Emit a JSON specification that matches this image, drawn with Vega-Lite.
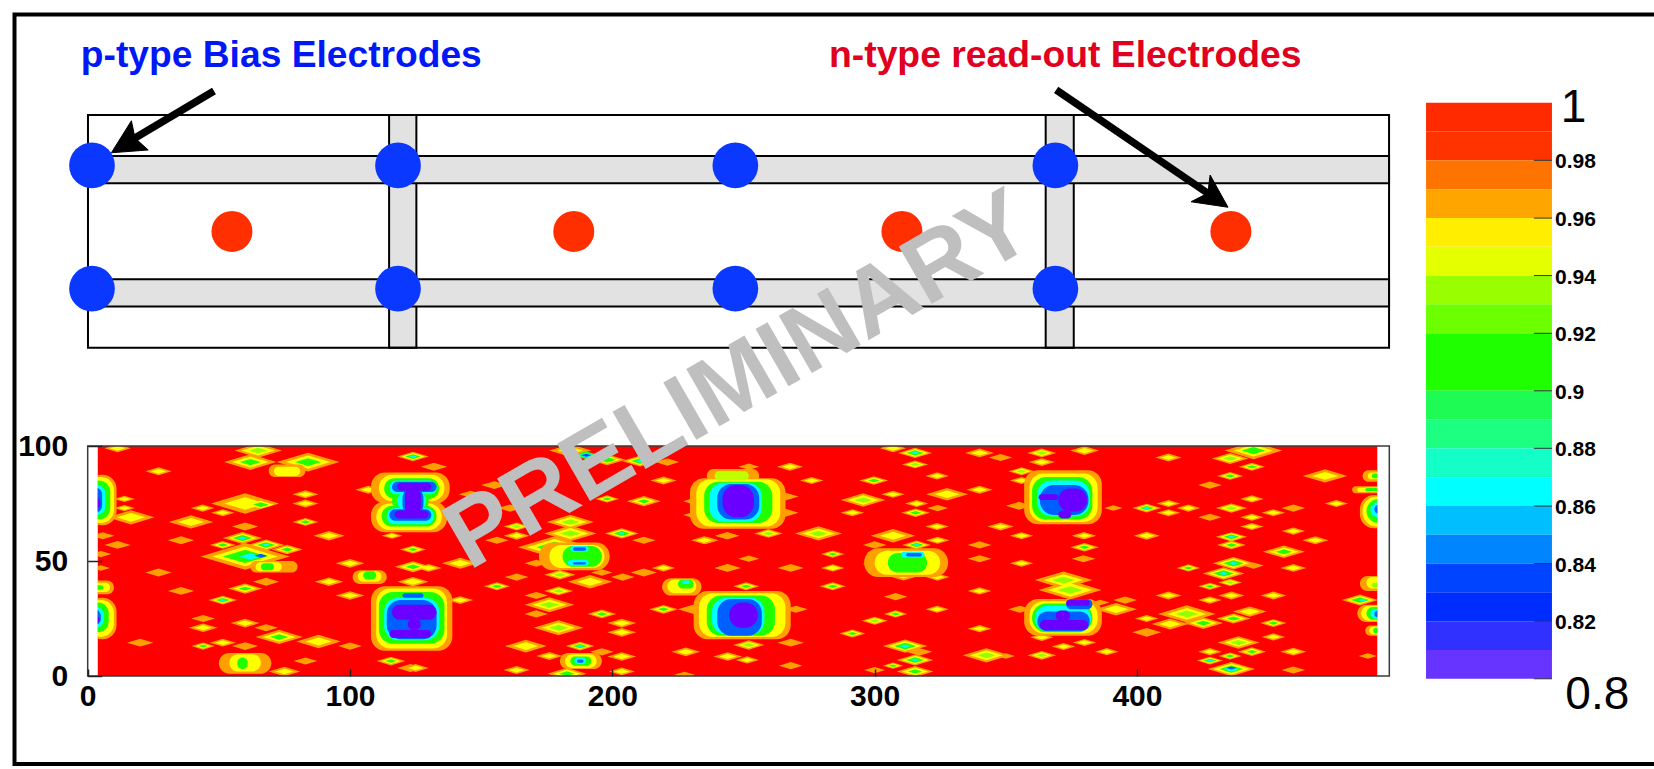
{"$schema":"https://vega.github.io/schema/vega-lite/v6.json","width":1654,"height":769,"padding":0,"autosize":"none","background":"white","config":{"view":{"stroke":null},"font":"Liberation Sans"},
"encoding":{"x":{"field":"x","type":"quantitative","title":null,"scale":{"domain":[-33.43,597.1]},"axis":{"orient":"bottom","offset":-93,"values":[0,100,200,300,400],"domain":false,"grid":false,"tickSize":-7,"tickColor":"#222","tickWidth":1.5,"labelFont":"Liberation Sans","labelFontWeight":"bold","labelFontSize":30,"labelColor":"#000","labelPadding":12,"labelFlush":false,"labelOverlap":false,"zindex":1}},"y":{"field":"y","type":"quantitative","title":null,"scale":{"domain":[-40.43,293.91]},"axis":{"orient":"left","offset":-87.7,"values":[0,50,100],"domain":false,"grid":false,"tickSize":-14,"tickColor":"#222","tickWidth":1.5,"labelFont":"Liberation Sans","labelFontWeight":"bold","labelFontSize":30,"labelColor":"#000","labelPadding":34,"labelOverlap":false,"zindex":1}}},
"layer":[
{"data":{"values":[{"x":3.75,"x2":491.7,"y":0,"y2":100,"v":0.995}]},"mark":{"type":"rect"},"encoding":{"x2":{"field":"x2"},"y2":{"field":"y2"},"color":{"field":"v","type":"quantitative","legend":null,"scale":{"type":"threshold","domain":[0.81,0.82,0.83,0.84,0.85,0.86,0.87,0.88,0.89,0.9,0.91,0.92,0.93,0.94,0.95,0.96,0.97,0.98,0.99],"range":["#6a00ff","#5500ff","#2a22ff","#0040ff","#0060ff","#0090ff","#00c0ff","#00ffff","#00ffb0","#00ff70","#00ff30","#20ff00","#50ff00","#90ff00","#c0ff00","#ffff00","#ffd000","#ffa000","#ff6000","#ff0000"]}}}},
{"data":{"values":[
{"x":20,"y":14.5,"w":10,"v":0.975},{"x":27,"y":45,"w":10,"v":0.975},{"x":35.6,"y":59,"w":10,"v":0.975},{"x":35.6,"y":37,"w":10,"v":0.975},{"x":44,"y":25,"w":9,"v":0.975},{"x":68,"y":41,"w":10,"v":0.975},{"x":68,"y":21,"w":9,"v":0.975},{"x":60,"y":65,"w":10,"v":0.975},{"x":60,"y":13,"w":10,"v":0.975},{"x":100,"y":13,"w":9,"v":0.975},{"x":83,"y":6.5,"w":9,"v":0.975},{"x":11.4,"y":57,"w":10,"v":0.975},{"x":155,"y":83,"w":10,"v":0.975},{"x":146,"y":79,"w":9,"v":0.975},{"x":161,"y":73,"w":9,"v":0.975},{"x":132,"y":91,"w":10,"v":0.975},{"x":156,"y":59,"w":9,"v":0.975},{"x":212,"y":59,"w":9,"v":0.975},{"x":171,"y":49,"w":9,"v":0.975},{"x":196,"y":45,"w":8,"v":0.975},{"x":212,"y":45,"w":10,"v":0.975},{"x":163.5,"y":43,"w":9,"v":0.975},{"x":204,"y":43,"w":9,"v":0.975},{"x":171,"y":35,"w":9,"v":0.975},{"x":171,"y":27,"w":9,"v":0.975},{"x":196,"y":10.5,"w":9,"v":0.975},{"x":243.6,"y":61,"w":9,"v":0.975},{"x":252,"y":91,"w":8,"v":0.975},{"x":244,"y":61,"w":9,"v":0.975},{"x":236,"y":59,"w":9,"v":0.975},{"x":252,"y":51,"w":8,"v":0.975},{"x":244,"y":47,"w":10,"v":0.975},{"x":268,"y":47,"w":10,"v":0.975},{"x":270,"y":29,"w":9,"v":0.975},{"x":268,"y":14.5,"w":10,"v":0.975},{"x":268,"y":4.5,"w":9,"v":0.975},{"x":227.5,"y":0.5,"w":8,"v":0.975},{"x":221,"y":93,"w":9,"v":0.975},{"x":324,"y":73,"w":8,"v":0.975},{"x":300,"y":57,"w":9,"v":0.975},{"x":340,"y":57,"w":9,"v":0.975},{"x":340,"y":51,"w":9,"v":0.975},{"x":348,"y":95,"w":9,"v":0.975},{"x":308,"y":34.5,"w":9,"v":0.975},{"x":300,"y":2.6,"w":8,"v":0.975},{"x":427.8,"y":83,"w":9,"v":0.975},{"x":459.6,"y":73,"w":9,"v":0.975},{"x":427.8,"y":69,"w":9,"v":0.975},{"x":379.6,"y":61,"w":9,"v":0.975},{"x":379.6,"y":51,"w":9,"v":0.975},{"x":395.5,"y":33,"w":9,"v":0.975},{"x":403.7,"y":19,"w":11,"v":0.975},{"x":459.6,"y":2.6,"w":9,"v":0.975},
{"x":11.4,"y":99,"w":10,"v":0.975},{"x":11.4,"y":99,"w":6,"v":0.95},{"x":27,"y":89,"w":10,"v":0.975},{"x":27,"y":89,"w":6,"v":0.95},{"x":43.8,"y":73,"w":9,"v":0.975},{"x":43.8,"y":73,"w":5.4,"v":0.95},{"x":51.5,"y":71,"w":9,"v":0.975},{"x":51.5,"y":71,"w":5.4,"v":0.95},{"x":39.4,"y":67,"w":17,"v":0.975},{"x":39.4,"y":67,"w":10,"v":0.95},{"x":83,"y":79,"w":10,"v":0.975},{"x":83,"y":79,"w":6,"v":0.95},{"x":83,"y":75,"w":10,"v":0.975},{"x":83,"y":75,"w":6,"v":0.95},{"x":92,"y":61,"w":12,"v":0.975},{"x":92,"y":61,"w":7,"v":0.95},{"x":100,"y":49,"w":11,"v":0.975},{"x":100,"y":49,"w":6.6,"v":0.95},{"x":92,"y":41,"w":11,"v":0.975},{"x":92,"y":41,"w":6.6,"v":0.95},{"x":100,"y":35,"w":11,"v":0.975},{"x":100,"y":35,"w":6.6,"v":0.95},{"x":60,"y":23,"w":11,"v":0.975},{"x":60,"y":23,"w":6.6,"v":0.95},{"x":44,"y":21,"w":11,"v":0.975},{"x":44,"y":21,"w":6.6,"v":0.95},{"x":88,"y":15,"w":17,"v":0.975},{"x":88,"y":15,"w":10,"v":0.95},{"x":51.5,"y":14.5,"w":10,"v":0.975},{"x":51.5,"y":14.5,"w":6,"v":0.95},{"x":14,"y":77,"w":8,"v":0.975},{"x":14,"y":77,"w":4.8,"v":0.95},{"x":14,"y":73,"w":8,"v":0.975},{"x":14,"y":73,"w":4.8,"v":0.95},{"x":16.5,"y":69,"w":18,"v":0.975},{"x":16.5,"y":69,"w":11,"v":0.95},{"x":5.7,"y":61,"w":9,"v":0.975},{"x":5,"y":53,"w":8,"v":0.975},{"x":5,"y":47,"w":7,"v":0.975},{"x":107,"y":81,"w":10,"v":0.975},{"x":107,"y":81,"w":6,"v":0.95},{"x":116,"y":61,"w":8,"v":0.975},{"x":116,"y":61,"w":4.8,"v":0.95},{"x":130,"y":47,"w":10,"v":0.975},{"x":130,"y":47,"w":6,"v":0.95},{"x":142,"y":49,"w":14,"v":0.975},{"x":142,"y":49,"w":8.4,"v":0.95},{"x":142,"y":33,"w":10,"v":0.975},{"x":142,"y":33,"w":6,"v":0.95},{"x":184,"y":98,"w":16,"v":0.975},{"x":184,"y":98,"w":9.6,"v":0.95},{"x":219.5,"y":85,"w":10,"v":0.975},{"x":219.5,"y":85,"w":6,"v":0.95},{"x":163.5,"y":61,"w":10,"v":0.975},{"x":163.5,"y":61,"w":6,"v":0.95},{"x":235,"y":59,"w":10,"v":0.975},{"x":235,"y":59,"w":6,"v":0.95},{"x":219.5,"y":47,"w":9,"v":0.975},{"x":219.5,"y":47,"w":5.4,"v":0.95},{"x":243.6,"y":47,"w":9,"v":0.975},{"x":191.5,"y":41,"w":17,"v":0.975},{"x":191.5,"y":41,"w":10,"v":0.95},{"x":203.6,"y":23,"w":11,"v":0.975},{"x":203.6,"y":23,"w":6.6,"v":0.95},{"x":203.6,"y":19,"w":11,"v":0.975},{"x":203.6,"y":19,"w":6.6,"v":0.95},{"x":167,"y":13,"w":16,"v":0.975},{"x":167,"y":13,"w":9.6,"v":0.95},{"x":203.6,"y":8.5,"w":11,"v":0.975},{"x":203.6,"y":8.5,"w":6.6,"v":0.95},{"x":228,"y":10.5,"w":11,"v":0.975},{"x":228,"y":10.5,"w":6.6,"v":0.95},{"x":244,"y":8.5,"w":11,"v":0.975},{"x":244,"y":8.5,"w":6.6,"v":0.95},{"x":163.5,"y":2.6,"w":10,"v":0.975},{"x":163.5,"y":2.6,"w":6,"v":0.95},{"x":176,"y":8.7,"w":10,"v":0.975},{"x":176,"y":8.7,"w":6,"v":0.95},{"x":203.6,"y":2,"w":10,"v":0.975},{"x":203.6,"y":2,"w":6,"v":0.95},{"x":125,"y":3.5,"w":10,"v":0.975},{"x":125,"y":3.5,"w":6,"v":0.95},{"x":276,"y":85,"w":9,"v":0.975},{"x":276,"y":85,"w":5.4,"v":0.95},{"x":267.7,"y":91,"w":10,"v":0.975},{"x":267.7,"y":91,"w":6,"v":0.95},{"x":251.4,"y":7,"w":9,"v":0.975},{"x":251.4,"y":7,"w":5.4,"v":0.95},{"x":307,"y":99,"w":10,"v":0.975},{"x":307,"y":99,"w":6,"v":0.95},{"x":323.8,"y":87,"w":9,"v":0.975},{"x":323.8,"y":87,"w":5.4,"v":0.95},{"x":340,"y":97,"w":11,"v":0.975},{"x":340,"y":97,"w":6.6,"v":0.95},{"x":380,"y":98,"w":11,"v":0.975},{"x":380,"y":98,"w":6.6,"v":0.95},{"x":363.7,"y":93,"w":10,"v":0.975},{"x":363.7,"y":93,"w":6,"v":0.95},{"x":356,"y":85,"w":9,"v":0.975},{"x":356,"y":85,"w":5.4,"v":0.95},{"x":340,"y":81,"w":10,"v":0.975},{"x":340,"y":81,"w":6,"v":0.95},{"x":327.6,"y":79,"w":16,"v":0.975},{"x":327.6,"y":79,"w":9.6,"v":0.95},{"x":307,"y":79,"w":9,"v":0.975},{"x":307,"y":79,"w":5.4,"v":0.95},{"x":316,"y":75,"w":9,"v":0.975},{"x":316,"y":75,"w":5.4,"v":0.95},{"x":291.5,"y":71,"w":9,"v":0.975},{"x":291.5,"y":71,"w":5.4,"v":0.95},{"x":323.8,"y":65,"w":9,"v":0.975},{"x":323.8,"y":65,"w":5.4,"v":0.95},{"x":348,"y":65,"w":10,"v":0.975},{"x":348,"y":65,"w":6,"v":0.95},{"x":307,"y":61,"w":17,"v":0.975},{"x":307,"y":61,"w":10,"v":0.95},{"x":356,"y":61,"w":9,"v":0.975},{"x":356,"y":61,"w":5.4,"v":0.95},{"x":324,"y":59,"w":9,"v":0.975},{"x":324,"y":59,"w":5.4,"v":0.95},{"x":380,"y":61,"w":9,"v":0.975},{"x":380,"y":61,"w":5.4,"v":0.95},{"x":324,"y":43,"w":9,"v":0.975},{"x":324,"y":43,"w":5.4,"v":0.95},{"x":300,"y":48.7,"w":9,"v":0.975},{"x":300,"y":48.7,"w":5.4,"v":0.95},{"x":356,"y":49,"w":9,"v":0.975},{"x":356,"y":49,"w":5.4,"v":0.95},{"x":340,"y":37,"w":9,"v":0.975},{"x":340,"y":37,"w":5.4,"v":0.95},{"x":323.8,"y":29,"w":9,"v":0.975},{"x":323.8,"y":29,"w":5.4,"v":0.95},{"x":340,"y":20.6,"w":9,"v":0.975},{"x":340,"y":20.6,"w":5.4,"v":0.95},{"x":412,"y":95,"w":10,"v":0.975},{"x":412,"y":95,"w":6,"v":0.95},{"x":471.7,"y":87,"w":17,"v":0.975},{"x":471.7,"y":87,"w":10,"v":0.95},{"x":476,"y":75,"w":9,"v":0.975},{"x":476,"y":75,"w":5.4,"v":0.95},{"x":452,"y":71,"w":9,"v":0.975},{"x":452,"y":71,"w":5.4,"v":0.95},{"x":443.8,"y":77,"w":9,"v":0.975},{"x":443.8,"y":77,"w":5.4,"v":0.95},{"x":412,"y":75,"w":9,"v":0.975},{"x":412,"y":75,"w":5.4,"v":0.95},{"x":412,"y":71,"w":9,"v":0.975},{"x":412,"y":71,"w":5.4,"v":0.95},{"x":419.6,"y":73,"w":9,"v":0.975},{"x":419.6,"y":73,"w":5.4,"v":0.95},{"x":443.8,"y":69,"w":9,"v":0.975},{"x":443.8,"y":69,"w":5.4,"v":0.95},{"x":443.8,"y":65,"w":9,"v":0.975},{"x":443.8,"y":65,"w":5.4,"v":0.95},{"x":459.6,"y":63,"w":9,"v":0.975},{"x":459.6,"y":63,"w":5.4,"v":0.95},{"x":403.7,"y":61,"w":10,"v":0.975},{"x":403.7,"y":61,"w":6,"v":0.95},{"x":468,"y":59,"w":10,"v":0.975},{"x":468,"y":59,"w":6,"v":0.95},{"x":459.6,"y":47,"w":10,"v":0.975},{"x":459.6,"y":47,"w":6,"v":0.95},{"x":412,"y":35,"w":10,"v":0.975},{"x":412,"y":35,"w":6,"v":0.95},{"x":436,"y":35,"w":10,"v":0.975},{"x":436,"y":35,"w":6,"v":0.95},{"x":452,"y":35,"w":10,"v":0.975},{"x":452,"y":35,"w":6,"v":0.95},{"x":427.8,"y":33,"w":9,"v":0.975},{"x":427.8,"y":33,"w":5.4,"v":0.95},{"x":392,"y":29,"w":16,"v":0.975},{"x":392,"y":29,"w":9.6,"v":0.95},{"x":403.7,"y":25,"w":9,"v":0.975},{"x":403.7,"y":25,"w":5.4,"v":0.95},{"x":412.6,"y":22.6,"w":14,"v":0.975},{"x":412.6,"y":22.6,"w":8.4,"v":0.95},{"x":452,"y":17,"w":9,"v":0.975},{"x":452,"y":17,"w":5.4,"v":0.95},{"x":427.8,"y":10.6,"w":9,"v":0.975},{"x":427.8,"y":10.6,"w":5.4,"v":0.95},{"x":459.6,"y":10.6,"w":10,"v":0.975},{"x":459.6,"y":10.6,"w":6,"v":0.95},{"x":488,"y":8.7,"w":7,"v":0.975},{"x":388.5,"y":10.6,"w":9,"v":0.975},{"x":388.5,"y":10.6,"w":5.4,"v":0.95},{"x":380,"y":14.6,"w":9,"v":0.975},{"x":380,"y":14.6,"w":5.4,"v":0.95},{"x":372,"y":12.8,"w":9,"v":0.975},{"x":372,"y":12.8,"w":5.4,"v":0.95},{"x":363.7,"y":16.8,"w":9,"v":0.975},{"x":363.7,"y":16.8,"w":5.4,"v":0.95},{"x":350,"y":8.7,"w":7,"v":0.975},{"x":355.4,"y":29,"w":9,"v":0.975},{"x":391,"y":73,"w":7,"v":0.975},{"x":386,"y":32,"w":7,"v":0.975},{"x":443,"y":28,"w":13,"v":0.975},{"x":443,"y":28,"w":7.8,"v":0.95},{"x":75,"y":2,"w":12,"v":0.975},{"x":75,"y":2,"w":7,"v":0.95},{"x":123,"y":3.5,"w":10,"v":0.975},{"x":60,"y":75,"w":26,"v":0.975},{"x":60,"y":75,"w":16,"v":0.95},
{"x":65,"y":98,"w":18,"v":0.975},{"x":65,"y":98,"w":12.6,"v":0.95},{"x":65,"y":98,"w":7,"v":0.93},{"x":62,"y":93,"w":20,"v":0.975},{"x":62,"y":93,"w":14,"v":0.95},{"x":62,"y":93,"w":8,"v":0.91},{"x":84,"y":93,"w":24,"v":0.975},{"x":84,"y":93,"w":17,"v":0.95},{"x":84,"y":93,"w":10,"v":0.91},{"x":66,"y":74.5,"w":10,"v":0.95},{"x":66,"y":74.5,"w":6,"v":0.91},{"x":83,"y":67,"w":10,"v":0.975},{"x":83,"y":67,"w":7,"v":0.95},{"x":83,"y":67,"w":4,"v":0.91},{"x":51.5,"y":57,"w":10,"v":0.975},{"x":51.5,"y":57,"w":7,"v":0.95},{"x":51.5,"y":57,"w":4,"v":0.91},{"x":76,"y":55,"w":12,"v":0.975},{"x":76,"y":55,"w":8.4,"v":0.95},{"x":76,"y":55,"w":4.8,"v":0.91},{"x":60,"y":38,"w":13,"v":0.975},{"x":60,"y":38,"w":9,"v":0.95},{"x":60,"y":38,"w":5,"v":0.91},{"x":73,"y":17,"w":18,"v":0.975},{"x":73,"y":17,"w":12.6,"v":0.95},{"x":73,"y":17,"w":7,"v":0.91},{"x":44,"y":13,"w":9,"v":0.975},{"x":44,"y":13,"w":6,"v":0.95},{"x":44,"y":13,"w":3.6,"v":0.91},{"x":115.6,"y":6.5,"w":11,"v":0.975},{"x":115.6,"y":6.5,"w":7.7,"v":0.95},{"x":115.6,"y":6.5,"w":4.4,"v":0.91},{"x":124,"y":55,"w":10,"v":0.975},{"x":124,"y":55,"w":7,"v":0.95},{"x":124,"y":55,"w":4,"v":0.91},{"x":124,"y":47.5,"w":14,"v":0.975},{"x":124,"y":47.5,"w":10,"v":0.95},{"x":124,"y":47.5,"w":5.6,"v":0.91},{"x":124,"y":41,"w":12,"v":0.975},{"x":124,"y":41,"w":8,"v":0.95},{"x":198,"y":77,"w":9,"v":0.975},{"x":198,"y":77,"w":6.3,"v":0.95},{"x":198,"y":77,"w":3.6,"v":0.91},{"x":212,"y":76,"w":13,"v":0.975},{"x":212,"y":76,"w":9,"v":0.95},{"x":212,"y":76,"w":5,"v":0.91},{"x":184,"y":67,"w":18,"v":0.975},{"x":184,"y":67,"w":12.6,"v":0.95},{"x":184,"y":67,"w":7,"v":0.93},{"x":163.5,"y":65,"w":10,"v":0.975},{"x":163.5,"y":65,"w":7,"v":0.95},{"x":163.5,"y":65,"w":4,"v":0.93},{"x":184,"y":62,"w":20,"v":0.975},{"x":184,"y":62,"w":14,"v":0.95},{"x":184,"y":62,"w":8,"v":0.93},{"x":156,"y":39,"w":10,"v":0.975},{"x":156,"y":39,"w":7,"v":0.95},{"x":156,"y":39,"w":4,"v":0.91},{"x":179.5,"y":37,"w":11,"v":0.975},{"x":179.5,"y":37,"w":7.7,"v":0.95},{"x":179.5,"y":37,"w":4.4,"v":0.93},{"x":176,"y":31,"w":19,"v":0.975},{"x":176,"y":31,"w":13,"v":0.95},{"x":176,"y":31,"w":7.6,"v":0.93},{"x":219.5,"y":29,"w":11,"v":0.975},{"x":219.5,"y":29,"w":7.7,"v":0.95},{"x":219.5,"y":29,"w":4.4,"v":0.91},{"x":196,"y":27,"w":11,"v":0.975},{"x":196,"y":27,"w":7.7,"v":0.95},{"x":196,"y":27,"w":4.4,"v":0.91},{"x":179.5,"y":21,"w":19,"v":0.975},{"x":179.5,"y":21,"w":13,"v":0.95},{"x":179.5,"y":21,"w":7.6,"v":0.93},{"x":180,"y":44,"w":12,"v":0.975},{"x":180,"y":44,"w":8.4,"v":0.95},{"x":180,"y":44,"w":4.8,"v":0.93},{"x":182.7,"y":1,"w":15,"v":0.975},{"x":182.7,"y":1,"w":10.5,"v":0.95},{"x":182.7,"y":1,"w":6,"v":0.91},{"x":251,"y":39,"w":10,"v":0.975},{"x":251,"y":39,"w":7,"v":0.95},{"x":251,"y":39,"w":4,"v":0.91},{"x":284,"y":53,"w":9,"v":0.975},{"x":284,"y":53,"w":6.3,"v":0.95},{"x":284,"y":53,"w":3.6,"v":0.91},{"x":284,"y":47,"w":9,"v":0.975},{"x":284,"y":47,"w":6,"v":0.95},{"x":284,"y":39,"w":10,"v":0.975},{"x":284,"y":39,"w":7,"v":0.95},{"x":284,"y":39,"w":4,"v":0.91},{"x":259.5,"y":62,"w":11,"v":0.975},{"x":259.5,"y":62,"w":7.7,"v":0.95},{"x":259.5,"y":62,"w":4.4,"v":0.93},{"x":278.6,"y":62,"w":18,"v":0.975},{"x":278.6,"y":62,"w":12.6,"v":0.95},{"x":278.6,"y":62,"w":7,"v":0.93},{"x":252,"y":13.5,"w":12,"v":0.975},{"x":252,"y":13.5,"w":8.4,"v":0.95},{"x":252,"y":13.5,"w":4.8,"v":0.93},{"x":299.7,"y":85,"w":11,"v":0.975},{"x":299.7,"y":85,"w":7.7,"v":0.95},{"x":299.7,"y":85,"w":4.4,"v":0.91},{"x":363.7,"y":97,"w":11,"v":0.975},{"x":363.7,"y":97,"w":7.7,"v":0.95},{"x":363.7,"y":97,"w":4.4,"v":0.93},{"x":315.4,"y":92,"w":10,"v":0.975},{"x":315.4,"y":92,"w":7,"v":0.95},{"x":315.4,"y":92,"w":4,"v":0.93},{"x":356,"y":89,"w":10,"v":0.975},{"x":356,"y":89,"w":7,"v":0.95},{"x":356,"y":89,"w":4,"v":0.93},{"x":295.6,"y":76.5,"w":17,"v":0.975},{"x":295.6,"y":76.5,"w":12,"v":0.95},{"x":295.6,"y":76.5,"w":6.8,"v":0.93},{"x":315.6,"y":71,"w":11,"v":0.975},{"x":315.6,"y":71,"w":7.7,"v":0.95},{"x":315.6,"y":71,"w":4.4,"v":0.91},{"x":380,"y":56,"w":11,"v":0.975},{"x":380,"y":56,"w":7.7,"v":0.95},{"x":380,"y":56,"w":4.4,"v":0.91},{"x":316,"y":47,"w":16,"v":0.975},{"x":316,"y":47,"w":11,"v":0.95},{"x":316,"y":47,"w":6.4,"v":0.91},{"x":311,"y":44.6,"w":18,"v":0.975},{"x":311,"y":44.6,"w":12.6,"v":0.95},{"x":311,"y":44.6,"w":7,"v":0.93},{"x":308,"y":27,"w":9,"v":0.975},{"x":308,"y":27,"w":6.3,"v":0.95},{"x":308,"y":27,"w":3.6,"v":0.91},{"x":300,"y":24,"w":10,"v":0.975},{"x":300,"y":24,"w":7,"v":0.95},{"x":300,"y":24,"w":4,"v":0.93},{"x":291.5,"y":18.5,"w":10,"v":0.975},{"x":291.5,"y":18.5,"w":7,"v":0.95},{"x":291.5,"y":18.5,"w":4,"v":0.91},{"x":342.6,"y":9,"w":18,"v":0.975},{"x":342.6,"y":9,"w":12.6,"v":0.95},{"x":342.6,"y":9,"w":7,"v":0.93},{"x":363.7,"y":9,"w":11,"v":0.975},{"x":363.7,"y":9,"w":7.7,"v":0.95},{"x":363.7,"y":9,"w":4.4,"v":0.93},{"x":307,"y":4.5,"w":8,"v":0.975},{"x":307,"y":4.5,"w":5.6,"v":0.95},{"x":307,"y":4.5,"w":3.2,"v":0.91},{"x":315.4,"y":2,"w":14,"v":0.975},{"x":315.4,"y":2,"w":10,"v":0.95},{"x":315.4,"y":2,"w":5.6,"v":0.91},{"x":444.4,"y":98,"w":22,"v":0.975},{"x":444.4,"y":98,"w":15,"v":0.95},{"x":444.4,"y":98,"w":9,"v":0.91},{"x":435.5,"y":94.6,"w":14,"v":0.975},{"x":435.5,"y":94.6,"w":10,"v":0.95},{"x":435.5,"y":94.6,"w":5.6,"v":0.93},{"x":443.8,"y":91,"w":10,"v":0.975},{"x":443.8,"y":91,"w":7,"v":0.95},{"x":443.8,"y":91,"w":4,"v":0.91},{"x":435.5,"y":87,"w":10,"v":0.975},{"x":435.5,"y":87,"w":7,"v":0.95},{"x":435.5,"y":87,"w":4,"v":0.91},{"x":436,"y":73,"w":12,"v":0.975},{"x":436,"y":73,"w":8.4,"v":0.95},{"x":436,"y":73,"w":4.8,"v":0.93},{"x":436,"y":57,"w":11,"v":0.975},{"x":436,"y":57,"w":7.7,"v":0.95},{"x":436,"y":57,"w":4.4,"v":0.91},{"x":456,"y":54,"w":16,"v":0.975},{"x":456,"y":54,"w":11,"v":0.95},{"x":456,"y":54,"w":6.4,"v":0.91},{"x":419.6,"y":47,"w":9,"v":0.975},{"x":419.6,"y":47,"w":6.3,"v":0.95},{"x":419.6,"y":47,"w":3.6,"v":0.91},{"x":435.5,"y":40.7,"w":9,"v":0.975},{"x":435.5,"y":40.7,"w":6.3,"v":0.95},{"x":435.5,"y":40.7,"w":3.6,"v":0.93},{"x":427.8,"y":39,"w":9,"v":0.975},{"x":427.8,"y":39,"w":6.3,"v":0.95},{"x":427.8,"y":39,"w":3.6,"v":0.91},{"x":419,"y":27,"w":22,"v":0.975},{"x":419,"y":27,"w":15,"v":0.95},{"x":419,"y":27,"w":8.8,"v":0.93},{"x":436.8,"y":25,"w":13,"v":0.975},{"x":436.8,"y":25,"w":9,"v":0.95},{"x":436.8,"y":25,"w":5,"v":0.91},{"x":425.3,"y":23,"w":15,"v":0.975},{"x":425.3,"y":23,"w":10.5,"v":0.95},{"x":425.3,"y":23,"w":6,"v":0.91},{"x":452,"y":23,"w":10,"v":0.975},{"x":452,"y":23,"w":7,"v":0.95},{"x":452,"y":23,"w":4,"v":0.91},{"x":438.7,"y":14.6,"w":16,"v":0.975},{"x":438.7,"y":14.6,"w":11,"v":0.95},{"x":438.7,"y":14.6,"w":6.4,"v":0.93},{"x":443.8,"y":10.6,"w":11,"v":0.975},{"x":443.8,"y":10.6,"w":7.7,"v":0.95},{"x":443.8,"y":10.6,"w":4.4,"v":0.91},{"x":435.5,"y":8.7,"w":9,"v":0.975},{"x":435.5,"y":8.7,"w":6.3,"v":0.95},{"x":435.5,"y":8.7,"w":3.6,"v":0.91},{"x":372,"y":41.7,"w":22,"v":0.975},{"x":372,"y":41.7,"w":15,"v":0.95},{"x":372,"y":41.7,"w":8.8,"v":0.93},{"x":374.5,"y":37.4,"w":24,"v":0.975},{"x":374.5,"y":37.4,"w":17,"v":0.95},{"x":374.5,"y":37.4,"w":9.6,"v":0.93},
{"x":124,"y":95.4,"w":12,"v":0.975},{"x":124,"y":95.4,"w":9,"v":0.95},{"x":124,"y":95.4,"w":6,"v":0.91},{"x":124,"y":95.4,"w":3,"v":0.875},{"x":59,"y":60,"w":15,"v":0.975},{"x":59,"y":60,"w":11,"v":0.95},{"x":59,"y":60,"w":7.5,"v":0.91},{"x":59,"y":60,"w":3.8,"v":0.875},{"x":68,"y":57,"w":14,"v":0.975},{"x":68,"y":57,"w":10.5,"v":0.95},{"x":68,"y":57,"w":7,"v":0.91},{"x":68,"y":57,"w":3.5,"v":0.875},{"x":60,"y":52,"w":34,"v":0.975},{"x":60,"y":52,"w":25,"v":0.95},{"x":60,"y":52,"w":17,"v":0.91},{"x":62,"y":52,"w":8.5,"v":0.875},{"x":66,"y":52.3,"w":5,"v":0.84},{"x":51.5,"y":33,"w":11,"v":0.975},{"x":51.5,"y":33,"w":8,"v":0.95},{"x":51.5,"y":33,"w":5.5,"v":0.91},{"x":51.5,"y":33,"w":2.8,"v":0.875},{"x":198,"y":94,"w":14,"v":0.975},{"x":198,"y":94,"w":10,"v":0.95},{"x":198,"y":94,"w":7,"v":0.91},{"x":190,"y":96,"w":10,"v":0.91},{"x":190,"y":96,"w":6,"v":0.875},{"x":190,"y":96,"w":4,"v":0.83},{"x":210.6,"y":93.5,"w":14,"v":0.975},{"x":210.6,"y":93.5,"w":10.5,"v":0.95},{"x":210.6,"y":93.5,"w":7,"v":0.91},{"x":210.6,"y":93.5,"w":3.5,"v":0.875},{"x":203.6,"y":62,"w":13,"v":0.975},{"x":203.6,"y":62,"w":10,"v":0.95},{"x":203.6,"y":62,"w":6.5,"v":0.91},{"x":203.6,"y":62,"w":3.3,"v":0.875},{"x":187.7,"y":13,"w":11,"v":0.975},{"x":187.7,"y":13,"w":8,"v":0.95},{"x":187.7,"y":13,"w":5.5,"v":0.91},{"x":187.7,"y":13,"w":2.8,"v":0.875},{"x":178,"y":56,"w":28,"v":0.975},{"x":178,"y":56,"w":21,"v":0.95},{"x":178,"y":56,"w":14,"v":0.91},{"x":180,"y":56,"w":7,"v":0.875},{"x":180,"y":51,"w":16,"v":0.975},{"x":180,"y":51,"w":12,"v":0.95},{"x":180,"y":51,"w":8,"v":0.91},{"x":180,"y":51,"w":4,"v":0.875},{"x":315.4,"y":97,"w":13,"v":0.975},{"x":315.4,"y":97,"w":10,"v":0.95},{"x":315.4,"y":97,"w":6.5,"v":0.91},{"x":315.4,"y":97,"w":3.3,"v":0.875},{"x":316,"y":57,"w":11,"v":0.975},{"x":316,"y":57,"w":8,"v":0.95},{"x":316,"y":57,"w":5.5,"v":0.91},{"x":316,"y":57,"w":2.8,"v":0.875},{"x":311.6,"y":13,"w":17,"v":0.975},{"x":311.6,"y":13,"w":12.7,"v":0.95},{"x":311.6,"y":13,"w":8.5,"v":0.91},{"x":311.6,"y":13,"w":4.3,"v":0.875},{"x":317,"y":10.5,"w":10,"v":0.975},{"x":315.4,"y":7,"w":14,"v":0.975},{"x":315.4,"y":7,"w":10.5,"v":0.95},{"x":315.4,"y":7,"w":7,"v":0.91},{"x":315.4,"y":7,"w":3.5,"v":0.875},{"x":403.7,"y":73,"w":11,"v":0.975},{"x":403.7,"y":73,"w":8,"v":0.95},{"x":403.7,"y":73,"w":5.5,"v":0.91},{"x":403.7,"y":73,"w":2.8,"v":0.875},{"x":436,"y":60.5,"w":12,"v":0.975},{"x":436,"y":60.5,"w":9,"v":0.95},{"x":436,"y":60.5,"w":6,"v":0.91},{"x":436,"y":60.5,"w":3,"v":0.875},{"x":436.8,"y":49,"w":16,"v":0.975},{"x":436.8,"y":49,"w":12,"v":0.95},{"x":436.8,"y":49,"w":8,"v":0.91},{"x":436.8,"y":49,"w":4,"v":0.875},{"x":444.4,"y":48,"w":8,"v":0.975},{"x":433,"y":44.6,"w":16,"v":0.975},{"x":433,"y":44.6,"w":12,"v":0.95},{"x":433,"y":44.6,"w":8,"v":0.91},{"x":433,"y":44.6,"w":4,"v":0.875},{"x":427.8,"y":6.7,"w":10,"v":0.975},{"x":427.8,"y":6.7,"w":7.5,"v":0.95},{"x":427.8,"y":6.7,"w":5,"v":0.91},{"x":427.8,"y":6.7,"w":2.5,"v":0.875},{"x":436,"y":3,"w":18,"v":0.975},{"x":436,"y":3,"w":14,"v":0.95},{"x":436,"y":3,"w":9,"v":0.91},{"x":436,"y":3,"w":6,"v":0.875},{"x":436,"y":3.5,"w":4,"v":0.84},{"x":485,"y":33,"w":14,"v":0.975},{"x":485,"y":33,"w":10.5,"v":0.95},{"x":485,"y":33,"w":7,"v":0.91},{"x":486,"y":33,"w":3.5,"v":0.875},{"x":372,"y":85,"w":12,"v":0.95},{"x":372,"y":85,"w":8,"v":0.91},{"x":372,"y":85,"w":4,"v":0.84},{"x":232,"y":76,"w":10,"v":0.975},{"x":232,"y":70,"w":10,"v":0.975},{"x":266,"y":78,"w":10,"v":0.975},{"x":266,"y":71,"w":10,"v":0.975},{"x":231,"y":29,"w":12,"v":0.975},{"x":262,"y":20,"w":10,"v":0.91},{"x":262,"y":20,"w":5,"v":0.875},{"x":355,"y":74,"w":10,"v":0.975}
]},"mark":{"type":"point","filled":true,"opacity":1,"strokeWidth":0},"encoding":{"shape":{"value":"M-1,0L0,-0.3L1,0L0,0.3Z"},"size":{"field":"w","type":"quantitative","legend":null,"scale":{"type":"pow","exponent":2,"domain":[0,100],"range":[0,68801]}},"order":{"field":"v","sort":"descending"},"color":{"field":"v","type":"quantitative","legend":null,"scale":{"type":"threshold","domain":[0.81,0.82,0.83,0.84,0.85,0.86,0.87,0.88,0.89,0.9,0.91,0.92,0.93,0.94,0.95,0.96,0.97,0.98,0.99],"range":["#6a00ff","#5500ff","#2a22ff","#0040ff","#0060ff","#0090ff","#00c0ff","#00ffff","#00ffb0","#00ff70","#00ff30","#20ff00","#50ff00","#90ff00","#c0ff00","#ffff00","#ffd000","#ffa000","#ff6000","#ff0000"]}}}},
{"data":{"values":[
{"x":0,"x2":11,"y":65.5,"y2":87.5,"v":0.975},{"x":0,"x2":10,"y":66.5,"y2":86.5,"v":0.95},{"x":0,"x2":8.6,"y":68,"y2":85,"v":0.91},{"x":0,"x2":6.8,"y":70,"y2":83,"v":0.875},{"x":0,"x2":5.5,"y":71,"y2":82,"v":0.84},{"x":0,"x2":4.8,"y":72,"y2":78,"v":0.805},
{"x":0,"x2":10,"y":35.5,"y2":41.5,"v":0.975},{"x":0,"x2":8.5,"y":36.5,"y2":40.5,"v":0.95},{"x":0,"x2":6,"y":37.5,"y2":39.5,"v":0.91},
{"x":0,"x2":11,"y":16,"y2":34,"v":0.975},{"x":0,"x2":10,"y":17,"y2":33,"v":0.95},{"x":0,"x2":8,"y":19,"y2":32,"v":0.91},{"x":0,"x2":6.2,"y":21,"y2":30,"v":0.875},{"x":0,"x2":5,"y":22,"y2":29,"v":0.84},{"x":0,"x2":4.5,"y":23,"y2":26,"v":0.805},
{"x":108,"x2":138,"y":75,"y2":88.5,"v":0.975},{"x":108,"x2":137,"y":62.5,"y2":76,"v":0.975},{"x":111,"x2":136,"y":76,"y2":87.5,"v":0.95},{"x":110,"x2":135,"y":63.5,"y2":75,"v":0.95},{"x":113,"x2":134,"y":77,"y2":86,"v":0.91},{"x":112,"x2":133,"y":65,"y2":74,"v":0.91},{"x":116,"x2":130,"y":72,"y2":80,"v":0.91},{"x":115,"x2":133,"y":79,"y2":85,"v":0.875},{"x":114,"x2":132,"y":66,"y2":73,"v":0.875},{"x":118,"x2":129,"y":72,"y2":80,"v":0.875},{"x":116,"x2":133,"y":80,"y2":84.5,"v":0.84},{"x":115,"x2":131,"y":67.5,"y2":72.5,"v":0.84},{"x":120,"x2":128,"y":70,"y2":82,"v":0.84},{"x":118,"x2":131,"y":80.5,"y2":84,"v":0.805},{"x":117,"x2":130,"y":68.5,"y2":72,"v":0.805},{"x":121,"x2":127,"y":70,"y2":82,"v":0.805},
{"x":108,"x2":139,"y":11,"y2":39,"v":0.975},{"x":110,"x2":137,"y":12,"y2":38,"v":0.95},{"x":111,"x2":136,"y":14,"y2":36.5,"v":0.91},{"x":113,"x2":134,"y":15.5,"y2":34,"v":0.875},{"x":114,"x2":133,"y":16,"y2":33,"v":0.84},{"x":120,"x2":128,"y":34,"y2":36,"v":0.84},{"x":116,"x2":133,"y":24.5,"y2":31,"v":0.805},{"x":122,"x2":127,"y":20,"y2":25,"v":0.805},{"x":115,"x2":131,"y":16.5,"y2":20,"v":0.805},
{"x":229.6,"x2":266,"y":64,"y2":86,"v":0.975},{"x":236,"x2":256,"y":84,"y2":90,"v":0.975},{"x":239,"x2":252,"y":85,"y2":89,"v":0.94},{"x":232,"x2":264,"y":65,"y2":85.5,"v":0.95},{"x":235,"x2":261,"y":66.5,"y2":84.5,"v":0.91},{"x":237,"x2":257,"y":67,"y2":84,"v":0.875},{"x":240,"x2":256,"y":68,"y2":83.5,"v":0.84},{"x":242,"x2":254,"y":69,"y2":83,"v":0.805},
{"x":231,"x2":268,"y":16,"y2":37,"v":0.975},{"x":233,"x2":266,"y":17,"y2":36,"v":0.95},{"x":236,"x2":262,"y":17.5,"y2":35,"v":0.91},{"x":238,"x2":258,"y":18,"y2":34,"v":0.875},{"x":240,"x2":257,"y":17.5,"y2":33.5,"v":0.84},{"x":244.5,"x2":255.5,"y":21,"y2":32,"v":0.805},
{"x":357,"x2":386.6,"y":66,"y2":89.5,"v":0.975},{"x":359,"x2":385,"y":67,"y2":88,"v":0.95},{"x":360,"x2":383,"y":68,"y2":86.5,"v":0.91},{"x":362,"x2":382,"y":69.5,"y2":85,"v":0.875},{"x":363,"x2":381.5,"y":70,"y2":83,"v":0.84},{"x":370,"x2":381,"y":71.5,"y2":81.5,"v":0.805},{"x":362.5,"x2":370,"y":76.5,"y2":79,"v":0.805},{"x":370,"x2":375,"y":68.5,"y2":72,"v":0.805},
{"x":357,"x2":386.6,"y":17.5,"y2":33.5,"v":0.975},{"x":359,"x2":385,"y":18.5,"y2":32.5,"v":0.95},{"x":360,"x2":383,"y":19,"y2":31.5,"v":0.91},{"x":361,"x2":382.5,"y":19.5,"y2":30.5,"v":0.875},{"x":362,"x2":382,"y":19.5,"y2":28,"v":0.84},{"x":373,"x2":383,"y":29,"y2":33.5,"v":0.84},{"x":363,"x2":381.5,"y":20,"y2":24.3,"v":0.805},{"x":369,"x2":374.5,"y":24,"y2":28.5,"v":0.805},{"x":373,"x2":382,"y":30.5,"y2":33,"v":0.805},
{"x":172,"x2":199,"y":46,"y2":58,"v":0.975},{"x":176,"x2":197,"y":47,"y2":57,"v":0.95},{"x":181,"x2":196,"y":47.5,"y2":56.5,"v":0.91},{"x":184,"x2":191,"y":54,"y2":56.5,"v":0.875},{"x":183,"x2":191,"y":48,"y2":50.5,"v":0.875},{"x":185,"x2":190,"y":54.5,"y2":56,"v":0.84},{"x":185,"x2":190,"y":48.5,"y2":49.5,"v":0.84},
{"x":296,"x2":328,"y":43,"y2":55.5,"v":0.975},{"x":300,"x2":325,"y":44,"y2":54.5,"v":0.95},{"x":305,"x2":320,"y":45,"y2":53.5,"v":0.91},{"x":310,"x2":319,"y":51.5,"y2":54,"v":0.875},{"x":312,"x2":318,"y":52,"y2":53.5,"v":0.84},
{"x":101,"x2":114,"y":40,"y2":46,"v":0.975},{"x":103,"x2":112,"y":41,"y2":45.5,"v":0.95},{"x":105,"x2":110,"y":42,"y2":45.5,"v":0.91},
{"x":219,"x2":234,"y":35,"y2":42.5,"v":0.975},{"x":221,"x2":232,"y":36,"y2":42,"v":0.95},{"x":225,"x2":231,"y":38,"y2":42,"v":0.91},{"x":226.5,"x2":229.5,"y":40,"y2":41.5,"v":0.875},
{"x":69,"x2":83,"y":86.5,"y2":92,"v":0.975},{"x":71,"x2":81,"y":87,"y2":91,"v":0.95},
{"x":50,"x2":70,"y":1,"y2":10,"v":0.975},{"x":54,"x2":66,"y":2,"y2":9.5,"v":0.95},{"x":57,"x2":61,"y":3,"y2":8,"v":0.91},
{"x":62,"x2":80,"y":45,"y2":50,"v":0.975},{"x":64,"x2":74,"y":45.5,"y2":49.5,"v":0.95},{"x":66,"x2":71,"y":46,"y2":49,"v":0.91},
{"x":180,"x2":196,"y":3,"y2":10,"v":0.975},{"x":182,"x2":194,"y":3.5,"y2":9.5,"v":0.95},{"x":184,"x2":192,"y":4.5,"y2":8.5,"v":0.91},{"x":185.5,"x2":190,"y":5.2,"y2":8,"v":0.875},{"x":186.5,"x2":189,"y":5.8,"y2":7.2,"v":0.84},
{"x":485,"x2":500,"y":64.2,"y2":78.7,"v":0.975},{"x":486,"x2":500,"y":65,"y2":78,"v":0.95},{"x":487.5,"x2":500,"y":66.5,"y2":77,"v":0.91},{"x":489,"x2":500,"y":69,"y2":75.5,"v":0.875},{"x":490.5,"x2":500,"y":70.5,"y2":74.5,"v":0.84},
{"x":484,"x2":500,"y":23.5,"y2":31,"v":0.975},{"x":485.5,"x2":500,"y":24,"y2":30.5,"v":0.95},{"x":487.5,"x2":500,"y":24.5,"y2":30,"v":0.91},{"x":489,"x2":500,"y":25,"y2":29,"v":0.875},{"x":490.5,"x2":500,"y":25.5,"y2":28.5,"v":0.84},
{"x":485,"x2":500,"y":37,"y2":43.5,"v":0.975},{"x":487.5,"x2":500,"y":38,"y2":43,"v":0.95},{"x":489.5,"x2":500,"y":38.5,"y2":40.5,"v":0.93},
{"x":487,"x2":500,"y":17.5,"y2":22,"v":0.975},{"x":488.5,"x2":500,"y":18,"y2":21.5,"v":0.95},{"x":490,"x2":500,"y":18.5,"y2":21,"v":0.91},
{"x":486,"x2":500,"y":84.5,"y2":89.5,"v":0.975},{"x":488,"x2":500,"y":85.5,"y2":88.5,"v":0.95},{"x":489.5,"x2":500,"y":86,"y2":88,"v":0.91},
{"x":482,"x2":500,"y":79.5,"y2":82.5,"v":0.975},{"x":484,"x2":500,"y":80,"y2":82,"v":0.95},{"x":487,"x2":500,"y":80.3,"y2":81.7,"v":0.91}
]},"mark":{"type":"rect","cornerRadius":14},"encoding":{"x2":{"field":"x2"},"y2":{"field":"y2"},"order":{"field":"v","sort":"descending"},"color":{"field":"v","type":"quantitative","legend":null,"scale":{"type":"threshold","domain":[0.81,0.82,0.83,0.84,0.85,0.86,0.87,0.88,0.89,0.9,0.91,0.92,0.93,0.94,0.95,0.96,0.97,0.98,0.99],"range":["#6a00ff","#5500ff","#2a22ff","#0040ff","#0060ff","#0090ff","#00c0ff","#00ffff","#00ffb0","#00ff70","#00ff30","#20ff00","#50ff00","#90ff00","#c0ff00","#ffff00","#ffd000","#ffa000","#ff6000","#ff0000"]}}}},
{"data":{"values":[{"x":-2,"x2":3.75,"y":-6,"y2":108},{"x":491.7,"x2":505,"y":-6,"y2":108},{"x":-2,"x2":505,"y":100,"y2":108},{"x":-2,"x2":505,"y":-6,"y2":0}]},"mark":{"type":"rect","fill":"white"},"encoding":{"x2":{"field":"x2"},"y2":{"field":"y2"}}},
{"data":{"values":[{"x":0,"x2":496.2,"y":0,"y2":100}]},"mark":{"type":"rect","fillOpacity":0,"stroke":"#3a3a3a","strokeWidth":1.5},"encoding":{"x2":{"field":"x2"},"y2":{"field":"y2"}}},
{"data":{"values":[{"x":-27.9,"x2":603,"y":-38.3,"y2":287.6}]},"mark":{"type":"rect","fillOpacity":0,"stroke":"#000","strokeWidth":4},"encoding":{"x2":{"field":"x2"},"y2":{"field":"y2"}}},
{"data":{"values":[{"x":114.9,"x2":125.3,"y":142.7,"y2":243.9},{"x":365.2,"x2":375.9,"y":142.7,"y2":243.9},{"x":0.11,"x2":496.1,"y":214.2,"y2":226.1},{"x":0.11,"x2":496.1,"y":160.6,"y2":172.5}]},"mark":{"type":"rect","fill":"#e2e2e2","stroke":"#000","strokeWidth":2},"encoding":{"x2":{"field":"x2"},"y2":{"field":"y2"}}},
{"data":{"values":[{"x":0.11,"x2":496.1,"y":142.7,"y2":243.9}]},"mark":{"type":"rect","fillOpacity":0,"stroke":"#000","strokeWidth":2},"encoding":{"x2":{"field":"x2"},"y2":{"field":"y2"}}},
{"data":{"values":[{"x":1.64,"y":222},{"x":118.3,"y":222},{"x":246.9,"y":222},{"x":368.9,"y":222},{"x":1.64,"y":168.4},{"x":118.3,"y":168.4},{"x":246.9,"y":168.4},{"x":368.9,"y":168.4}]},"mark":{"type":"circle","size":2088,"color":"#0a38ff","opacity":1},"encoding":{}},
{"data":{"values":[{"x":55,"y":193.3},{"x":185.3,"y":193.3},{"x":310.4,"y":193.3},{"x":435.8,"y":193.3}]},"mark":{"type":"circle","size":1681,"color":"#ff2f00","opacity":1},"encoding":{}},
{"data":{"values":[{"x":48.15,"y":254.35,"x2":18.03,"y2":233.9},{"x":369.2,"y":254.8,"x2":427,"y2":209.9}]},"mark":{"type":"rule","color":"#000","strokeWidth":7.5},"encoding":{"x2":{"field":"x2"},"y2":{"field":"y2"}}},
{"data":{"values":[{"id":1,"i":1,"x":9.04,"y":227.5},{"id":1,"i":2,"x":16.66,"y":241.4},{"id":1,"i":3,"x":18.03,"y":233.9},{"id":1,"i":4,"x":23.07,"y":228.7},{"id":1,"i":5,"x":9.04,"y":227.5},{"id":2,"i":1,"x":434.7,"y":203.8},{"id":2,"i":2,"x":427.9,"y":217.8},{"id":2,"i":3,"x":427,"y":209.9},{"id":2,"i":4,"x":420.6,"y":206.2},{"id":2,"i":5,"x":434.7,"y":203.8}]},"mark":{"type":"line","fill":"#000","stroke":"#000","strokeWidth":1},"encoding":{"detail":{"field":"id"},"order":{"field":"i","type":"quantitative"}}},
{"data":{"values":[{"x":510.2,"x2":558.2,"y":236.7,"y2":249.2,"b":"a"},{"x":510.2,"x2":558.2,"y":224.2,"y2":236.7,"b":"b"},{"x":510.2,"x2":558.2,"y":211.6,"y2":224.2,"b":"c"},{"x":510.2,"x2":558.2,"y":199.1,"y2":211.6,"b":"d"},{"x":510.2,"x2":558.2,"y":186.6,"y2":199.1,"b":"e"},{"x":510.2,"x2":558.2,"y":174.1,"y2":186.6,"b":"f"},{"x":510.2,"x2":558.2,"y":161.6,"y2":174.1,"b":"g"},{"x":510.2,"x2":558.2,"y":149,"y2":161.6,"b":"h"},{"x":510.2,"x2":558.2,"y":136.5,"y2":149,"b":"i"},{"x":510.2,"x2":558.2,"y":124,"y2":136.5,"b":"j"},{"x":510.2,"x2":558.2,"y":111.5,"y2":124,"b":"k"},{"x":510.2,"x2":558.2,"y":99,"y2":111.5,"b":"l"},{"x":510.2,"x2":558.2,"y":86.4,"y2":99,"b":"m"},{"x":510.2,"x2":558.2,"y":73.9,"y2":86.4,"b":"n"},{"x":510.2,"x2":558.2,"y":61.4,"y2":73.9,"b":"o"},{"x":510.2,"x2":558.2,"y":48.9,"y2":61.4,"b":"p"},{"x":510.2,"x2":558.2,"y":36.4,"y2":48.9,"b":"q"},{"x":510.2,"x2":558.2,"y":23.8,"y2":36.4,"b":"r"},{"x":510.2,"x2":558.2,"y":11.3,"y2":23.8,"b":"s"},{"x":510.2,"x2":558.2,"y":-1.2,"y2":11.3,"b":"t"}]},"mark":{"type":"rect"},"encoding":{"x2":{"field":"x2"},"y2":{"field":"y2"},"fill":{"field":"b","type":"nominal","legend":null,"scale":{"domain":["a","b","c","d","e","f","g","h","i","j","k","l","m","n","o","p","q","r","s","t"],"range":["#ff2a00","#ff3300","#ff7300","#ffa500","#ffee00","#e4ff00","#99ff00","#6cff00","#1fff00","#1fff00","#1ffb55","#1cff80","#14ffc8","#00ffff","#00bfff","#0085ff","#0044ff","#002dff","#3030ff","#6633ff"]}}}},
{"data":{"values":[{"x":551.3,"x2":558.2,"y":224.2,"t":"0.98"},{"x":551.3,"x2":558.2,"y":199.1,"t":"0.96"},{"x":551.3,"x2":558.2,"y":174.1,"t":"0.94"},{"x":551.3,"x2":558.2,"y":149,"t":"0.92"},{"x":551.3,"x2":558.2,"y":124,"t":"0.9"},{"x":551.3,"x2":558.2,"y":99,"t":"0.88"},{"x":551.3,"x2":558.2,"y":73.9,"t":"0.86"},{"x":551.3,"x2":558.2,"y":48.9,"t":"0.84"},{"x":551.3,"x2":558.2,"y":23.8,"t":"0.82"},{"x":551.3,"x2":558.2,"y":-1.2,"t":""}]},"layer":[{"mark":{"type":"rule","color":"#333","strokeWidth":1},"encoding":{"x2":{"field":"x2"}}},{"transform":[{"filter":"datum.t!=''"}],"mark":{"type":"text","align":"left","baseline":"middle","dx":3,"dy":2,"fontWeight":"bold","fontSize":21,"color":"#000"},"encoding":{"x":{"field":"x2","type":"quantitative"},"text":{"field":"t"}}}]},
{"data":{"values":[{"x":566.4,"y":240.9,"t":"1"},{"x":575.5,"y":-14.3,"t":"0.8"}]},"mark":{"type":"text","align":"center","baseline":"alphabetic","fontSize":46,"color":"#000"},"encoding":{"text":{"field":"t"}}},
{"data":{"values":[{"x":-2.6,"y":264.9,"t":"p-type Bias Electrodes"}]},"mark":{"type":"text","align":"left","baseline":"alphabetic","fontSize":37.2,"fontWeight":"bold","color":"#0018f5"},"encoding":{"text":{"field":"t"}}},
{"data":{"values":[{"x":282.6,"y":264.9,"t":"n-type read-out Electrodes"}]},"mark":{"type":"text","align":"left","baseline":"alphabetic","fontSize":37.3,"fontWeight":"bold","color":"#e00020"},"encoding":{"text":{"field":"t"}}},
{"data":{"values":[{"x":248.4,"y":128.1,"t":"PRELIMINARY"}]},"mark":{"type":"text","align":"center","baseline":"middle","fontSize":96,"fontWeight":"bold","angle":330,"color":"#bfbfbf"},"encoding":{"text":{"field":"t"}}}
]}
